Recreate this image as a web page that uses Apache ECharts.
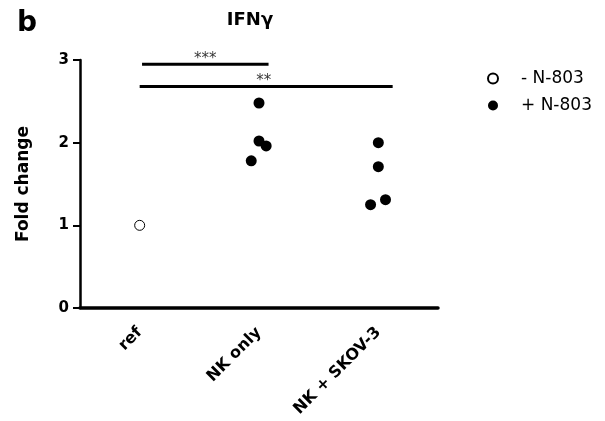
<!DOCTYPE html>
<html><head><meta charset="utf-8">
<script src="https://cdn.jsdelivr.net/npm/echarts@6/dist/echarts.min.js"></script>
<style>html,body{margin:0;padding:0;background:#fff}#c{width:605px;height:421px}</style>
</head><body><div id="c"></div>
<script>
var categories = ['ref', 'NK only', 'NK + SKOV-3'];
var yTicks = [0, 1, 2, 3];
// [category position (with jitter), fold change]
var minusN803 = [[0, 1.0]];
var plusN803 = [
  [1.0, 2.48], [1.0, 2.02], [1.06, 1.96], [0.935, 1.78],
  [2.0, 2.00], [2.0, 1.71], [1.935, 1.25], [2.06, 1.31]
];
var sig1 = [[0.02, 2.95], [1.08, 2.95]];
var sig2 = [[0.0, 2.68], [2.12, 2.68]];
var sigLabels = [[0.55, 3.01, '***'], [1.04, 2.74, '**']];

var FONT = "'DejaVu Sans', 'Liberation Sans', Arial, sans-serif";
var chart = echarts.init(document.getElementById('c'), null, {renderer: 'canvas'});
chart.setOption({
  animation: false,
  backgroundColor: '#fff',
  title: {
    text: 'IFNγ', left: 250, top: 11, textAlign: 'center', padding: 0,
    textStyle: {fontFamily: FONT, fontWeight: 'bold', fontSize: 18, color: '#000'}
  },
  graphic: [{
    type: 'text', left: 17, top: 10,
    style: {text: 'b', fontFamily: FONT, fontWeight: 'bold', fontSize: 28, fill: '#000'}
  }],
  legend: {
    orient: 'vertical', left: 487, top: 70, padding: 0,
    itemWidth: 10, itemHeight: 10, itemGap: 10,
    textStyle: {fontFamily: FONT, fontSize: 17, color: '#000', padding: [0, 0, 0, 18]},
    data: ['- N-803', '+ N-803']
  },
  grid: {left: 80, right: 167, top: 60, bottom: 113, containLabel: false},
  xAxis: [{
    type: 'category', data: categories, boundaryGap: true,
    axisLine: {lineStyle: {color: '#000', width: 3.5}},
    axisTick: {alignWithLabel: true, length: 8, lineStyle: {color: '#000', width: 2}},
    axisLabel: {rotate: 45, fontFamily: FONT, fontWeight: 'bold', fontSize: 16, color: '#000', margin: 22, interval: 0},
    splitLine: {show: false}
  }, {
    type: 'value', min: -0.5, max: 2.5, show: false
  }],
  yAxis: {
    type: 'value', min: 0, max: 3, interval: 1,
    name: 'Fold change', nameLocation: 'middle', nameGap: 48, nameRotate: 90,
    nameTextStyle: {fontFamily: FONT, fontWeight: 'bold', fontSize: 17, color: '#000'},
    axisLine: {show: true, onZero: false, lineStyle: {color: '#000', width: 2.5}},
    axisTick: {show: true, length: 7, lineStyle: {color: '#000', width: 2}},
    axisLabel: {fontFamily: FONT, fontWeight: 'bold', fontSize: 15, color: '#000', margin: 11,
      formatter: function (v) { return yTicks.indexOf(v) >= 0 ? String(v) : ''; }},
    splitLine: {show: false}
  },
  series: [{
    name: '- N-803', type: 'scatter', xAxisIndex: 1, data: minusN803,
    symbol: 'circle', symbolSize: 10,
    itemStyle: {color: '#fff', borderColor: '#000', borderWidth: 1, opacity: 1}
  }, {
    name: '+ N-803', type: 'scatter', xAxisIndex: 1, data: plusN803,
    symbol: 'circle', symbolSize: 11,
    itemStyle: {color: '#000', opacity: 1}
  }, {
    type: 'line', xAxisIndex: 1, data: sig1, showSymbol: false, symbol: 'none',
    lineStyle: {color: '#000', width: 3}, silent: true
  }, {
    type: 'line', xAxisIndex: 1, data: sig2, showSymbol: false, symbol: 'none',
    lineStyle: {color: '#000', width: 3}, silent: true
  }, {
    type: 'scatter', xAxisIndex: 1, clip: false, symbolSize: 1,
    itemStyle: {color: 'rgba(0,0,0,0)'},
    data: sigLabels.map(function (d) { return {value: [d[0], d[1]], name: d[2]}; }),
    label: {show: true, position: 'inside', formatter: '{b}',
      fontFamily: FONT, fontSize: 15, color: '#000'}
  }]
});
</script></body></html>
